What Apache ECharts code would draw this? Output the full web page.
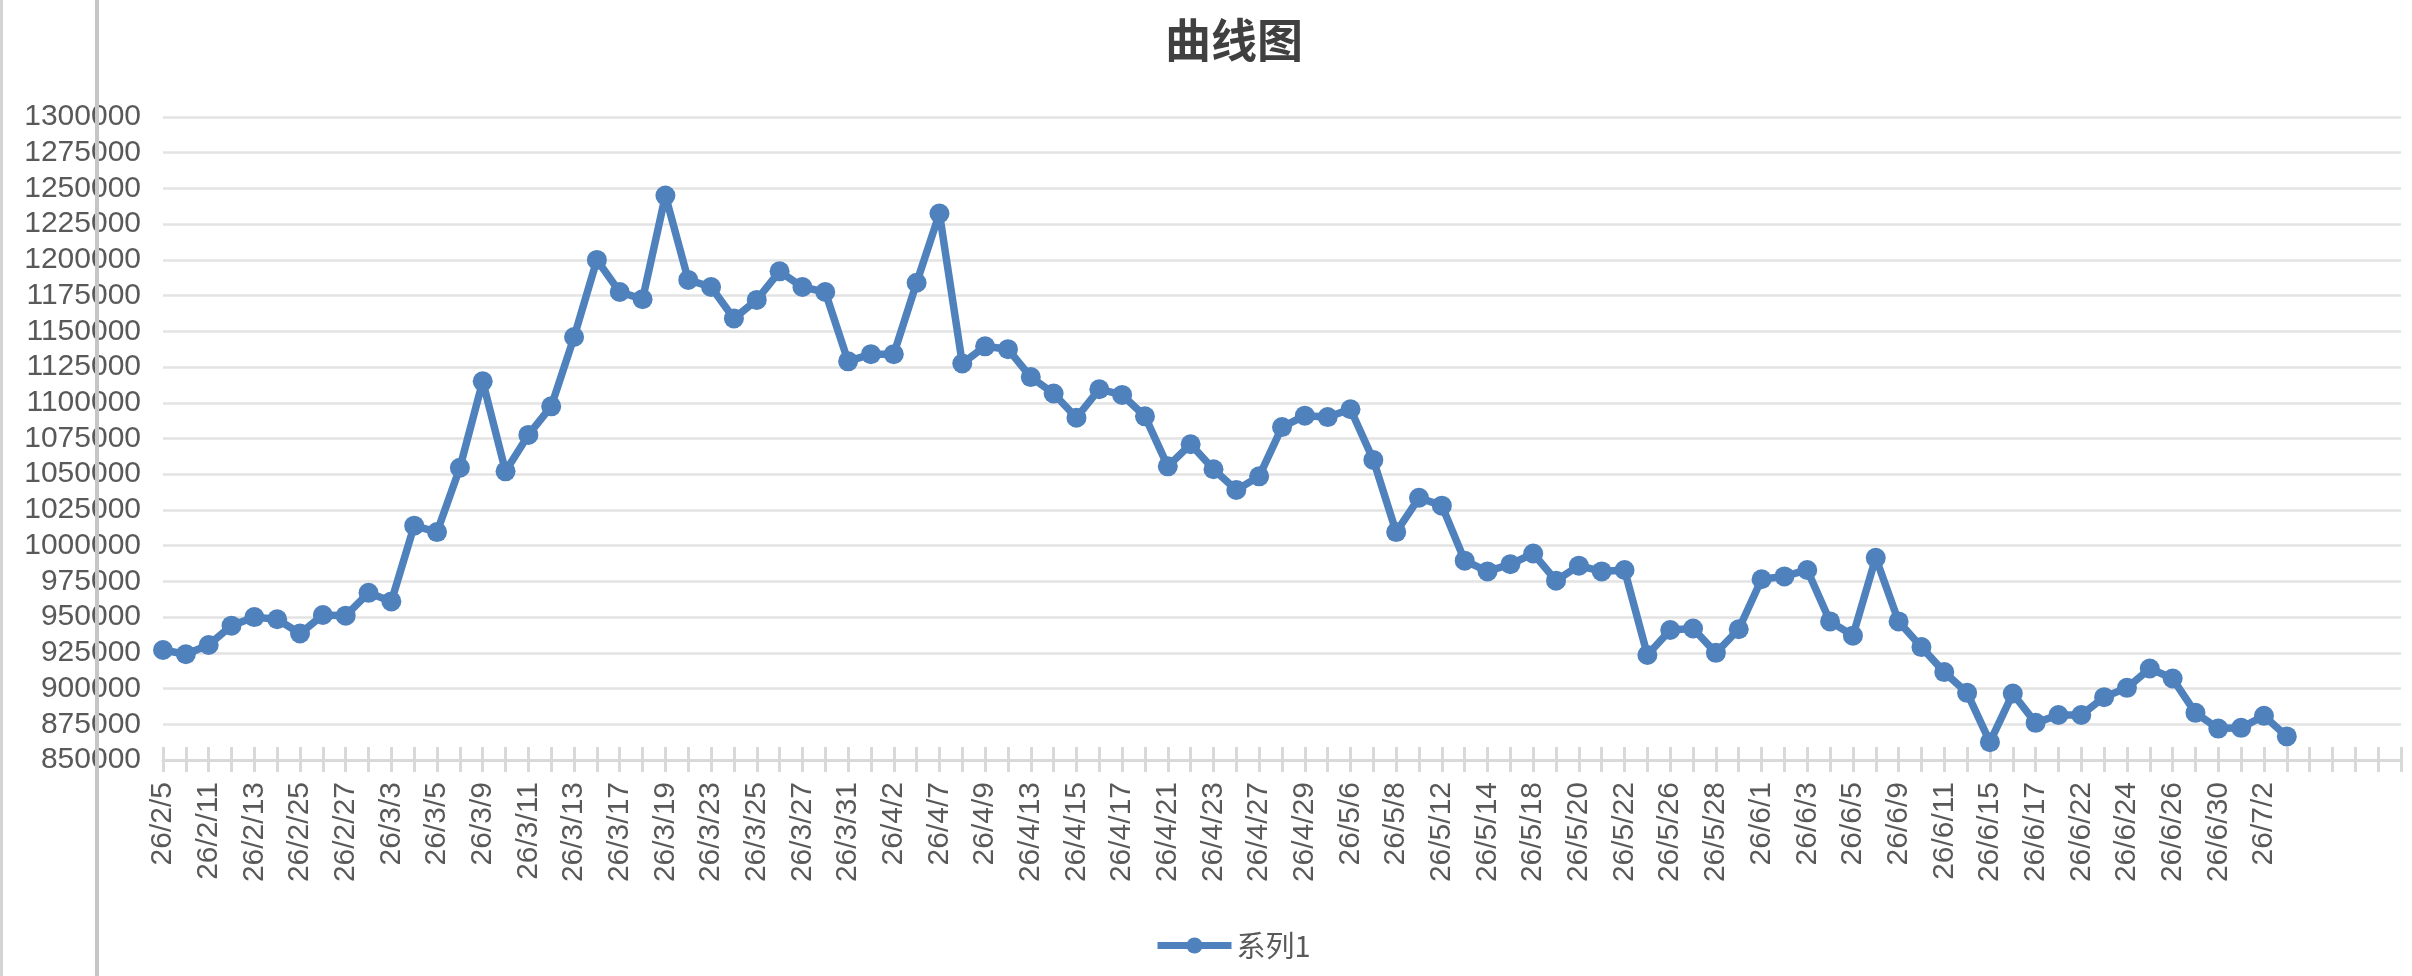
<!DOCTYPE html>
<html>
<head>
<meta charset="utf-8">
<script src="https://cdn.jsdelivr.net/npm/echarts@6/dist/echarts.min.js"></script>
<style>
  html, body { margin: 0; padding: 0; background: #ffffff; }
  #chart { width: 2412px; height: 976px; }
</style>
</head>
<body>
<div id="chart"></div>
<script>
const titleText = '曲线图';
const seriesName = '系列1';

const dates = [
  '26/2/5','26/2/10','26/2/11','26/2/12','26/2/13','26/2/24','26/2/25','26/2/26','26/2/27','26/3/2',
  '26/3/3','26/3/4','26/3/5','26/3/6','26/3/9','26/3/10','26/3/11','26/3/12','26/3/13','26/3/16',
  '26/3/17','26/3/18','26/3/19','26/3/20','26/3/23','26/3/24','26/3/25','26/3/26','26/3/27','26/3/30',
  '26/3/31','26/4/1','26/4/2','26/4/3','26/4/7','26/4/8','26/4/9','26/4/10','26/4/13','26/4/14',
  '26/4/15','26/4/16','26/4/17','26/4/20','26/4/21','26/4/22','26/4/23','26/4/24','26/4/27','26/4/28',
  '26/4/29','26/4/30','26/5/6','26/5/7','26/5/8','26/5/11','26/5/12','26/5/13','26/5/14','26/5/15',
  '26/5/18','26/5/19','26/5/20','26/5/21','26/5/22','26/5/25','26/5/26','26/5/27','26/5/28','26/5/29',
  '26/6/1','26/6/2','26/6/3','26/6/4','26/6/5','26/6/8','26/6/9','26/6/10','26/6/11','26/6/12',
  '26/6/15','26/6/16','26/6/17','26/6/18','26/6/22','26/6/23','26/6/24','26/6/25','26/6/26','26/6/29',
  '26/6/30','26/7/1','26/7/2','26/7/3'
];
// empty trailing categories shown on the axis after the last point
const padCategories = ['', '', '', '', ''];

const values = [
  927000, 924000, 930500, 944000, 950000, 948500, 938500, 951500, 951000, 967000,
  961000, 1014000, 1009500, 1054500, 1115000, 1052000, 1077500, 1097500, 1146000, 1200000,
  1177500, 1172500, 1245000, 1186000, 1181000, 1159000, 1172000, 1192000, 1181000, 1177500,
  1129000, 1134000, 1134000, 1184000, 1232500, 1127500, 1139500, 1137500, 1118000, 1106500,
  1089500, 1109500, 1105500, 1090500, 1055500, 1071000, 1053500, 1039000, 1048500, 1083000,
  1091000, 1090000, 1095500, 1060000, 1009500, 1033500, 1028000, 989500, 982000, 987000,
  994500, 975500, 986000, 982000, 983000, 923500, 941000, 942000, 925000, 941500,
  976500, 978500, 983000, 947000, 937000, 991500, 947000, 929000, 911500, 897000,
  862500, 896500, 876000, 881500, 881500, 894000, 900500, 914000, 907000, 883000,
  872000, 872500, 881000, 866500
];

const yMin = 850000;
const yMax = 1300000;
const yStep = 25000;

const categories = dates.concat(padCategories);

const labelFont = '"Liberation Sans", Arial, Helvetica, sans-serif';
const cjkFont = '"Noto Sans CJK SC", "Liberation Sans", sans-serif';
const lineColor = '#4f81bd';

const chart = echarts.init(document.getElementById('chart'), null, { renderer: 'canvas' });

chart.setOption({
  animation: false,
  backgroundColor: '#ffffff',
  title: {
    text: titleText,
    left: 1160,
    top: 12,
    textStyle: {
      fontFamily: cjkFont,
      fontSize: 46,
      fontWeight: 'bold',
      color: '#404040'
    }
  },
  legend: {
    data: [seriesName],
    left: 1149,
    top: 926,
    itemWidth: 74,
    itemHeight: 20,
    itemGap: 10,
    lineStyle: { width: 7, color: lineColor },
    itemStyle: { color: lineColor },
    textStyle: {
      fontFamily: cjkFont,
      fontSize: 29,
      color: '#595959'
    }
  },
  grid: {
    left: 163,
    right: 11,
    top: 117,
    bottom: 216,
    containLabel: false
  },
  xAxis: [
    {
      type: 'category',
      data: categories,
      boundaryGap: false,
      axisLine: { show: true, lineStyle: { color: '#d9d9d9', width: 3 } },
      axisTick: { show: true, interval: 0, length: 12, lineStyle: { color: '#d9d9d9', width: 3 } },
      axisLabel: {
        show: true,
        interval: 1,
        rotate: 90,
        margin: 22,
        fontFamily: labelFont,
        fontSize: 30,
        color: '#595959'
      },
      splitLine: { show: false }
    },
    {
      type: 'category',
      data: categories,
      boundaryGap: false,
      position: 'bottom',
      axisLine: { show: false },
      axisTick: { show: true, inside: true, interval: 0, length: 13, lineStyle: { color: '#d9d9d9', width: 3 } },
      axisLabel: { show: false },
      splitLine: { show: false }
    }
  ],
  yAxis: {
    type: 'value',
    min: yMin,
    max: yMax,
    interval: yStep,
    axisLine: { show: false },
    axisTick: { show: false },
    axisLabel: {
      margin: 22,
      fontFamily: labelFont,
      fontSize: 30,
      color: '#595959',
      formatter: function (v) { return String(v); }
    },
    splitLine: { show: true, lineStyle: { color: '#e3e3e3', width: 2.5 } }
  },
  series: [
    {
      name: seriesName,
      type: 'line',
      xAxisIndex: 0,
      data: values,
      symbol: 'circle',
      symbolSize: 20,
      showAllSymbol: true,
      lineStyle: { color: lineColor, width: 7.5 },
      itemStyle: { color: lineColor },
      z: 3
    }
  ],
  graphic: [
    {
      type: 'rect',
      shape: { x: 95, y: 0, width: 4, height: 976 },
      style: { fill: '#c6c6c6' },
      z: 100
    },
    {
      type: 'rect',
      shape: { x: 0, y: 0, width: 3, height: 976 },
      style: { fill: '#d4d4d4' },
      z: 100
    }
  ]
});
</script>
</body>
</html>
